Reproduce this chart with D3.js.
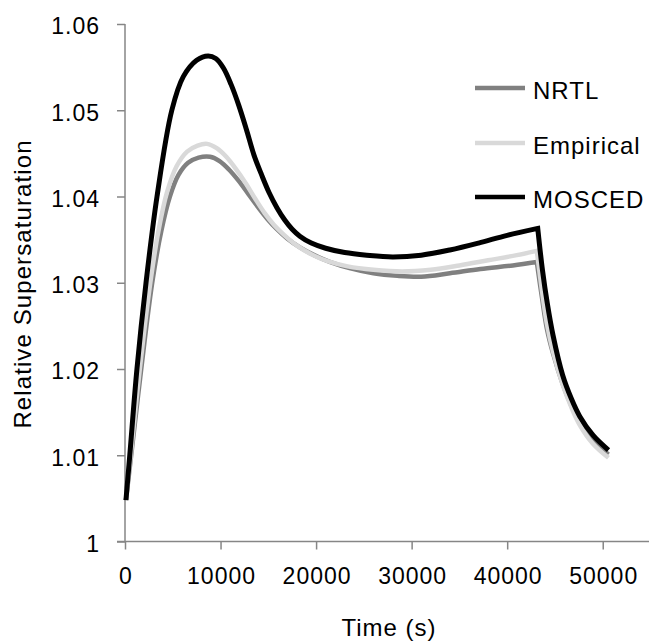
<!DOCTYPE html>
<html>
<head>
<meta charset="utf-8">
<script src="https://cdn.jsdelivr.net/npm/d3@7"></script>
<style>
	body { margin: 0; background: white; }
	svg { display: block; }
	text { font-family: "Liberation Sans", Arial, sans-serif; fill: #000; }
</style>
</head>
<body>
<svg id="chart" width="649" height="641"></svg>
<script>

// values (time in s, relative supersaturation)
let nrtl_t = [100, 650, 1700, 2850, 3800, 4700, 5600, 6600, 7700, 8900, 9900, 10900, 11900, 12900, 13900, 14900, 15900, 17000, 18300, 19800, 21500, 23500, 26000, 28500, 31000, 34000, 37200, 40600, 43100, 43650, 44150, 44800, 45800, 46700, 47600, 49000, 50600];
let nrtl_v = [1.0048, 1.0100, 1.0200, 1.0300, 1.0360, 1.0400, 1.0425, 1.0439, 1.0445, 1.0446, 1.0441, 1.0431, 1.0418, 1.0403, 1.0388, 1.0374, 1.0362, 1.0351, 1.0341, 1.0332, 1.0324, 1.0317, 1.0311, 1.0308, 1.0307, 1.0311, 1.0316, 1.0320, 1.0324, 1.0282, 1.0247, 1.0218, 1.0183, 1.0158, 1.0138, 1.0117, 1.0101];

let empirical_t = [100, 600, 1550, 2650, 3500, 4400, 5400, 6500, 7600, 8600, 9600, 10600, 11600, 12600, 13600, 14600, 15600, 16700, 18000, 19500, 21200, 23300, 26000, 29000, 32000, 35000, 38000, 41000, 43100, 43650, 44150, 44800, 45800, 46700, 47600, 49000, 50600];
let empirical_v = [1.0048, 1.0100, 1.0200, 1.0300, 1.0360, 1.0405, 1.0435, 1.0452, 1.0459, 1.0461, 1.0456, 1.0446, 1.0432, 1.0416, 1.0398, 1.0381, 1.0367, 1.0355, 1.0343, 1.0333, 1.0325, 1.0319, 1.0315, 1.0313, 1.0315, 1.0320, 1.0326, 1.0332, 1.0337, 1.0290, 1.0253, 1.0220, 1.0182, 1.0156, 1.0135, 1.0113, 1.0097];

let mosced_t = [100, 500, 1250, 2200, 3350, 4900, 6100, 7500, 8700, 9500, 10300, 11100, 11900, 12700, 13500, 14300, 15100, 15900, 16700, 17500, 18300, 19500, 21000, 23000, 25300, 28000, 31000, 34000, 37000, 40000, 43200, 43700, 44200, 44800, 45800, 46700, 47600, 49000, 50600];
let mosced_v = [1.0048, 1.0100, 1.0200, 1.0300, 1.0400, 1.0500, 1.0539, 1.0558, 1.0563, 1.0560, 1.0549, 1.0530, 1.0506, 1.0478, 1.0448, 1.0425, 1.0404, 1.0387, 1.0373, 1.0362, 1.0354, 1.0346, 1.0340, 1.0335, 1.0332, 1.0330, 1.0332, 1.0338, 1.0346, 1.0355, 1.0363, 1.0314, 1.0276, 1.0239, 1.0193, 1.0166, 1.0145, 1.0123, 1.0106];

let series_names = ['NRTL', 'Empirical', 'MOSCED'];
let series_colors = ['#808080', '#d9d9d9', '#000000'];

let x_ticks = [0, 10000, 20000, 30000, 40000, 50000];
let y_ticks = [1, 1.01, 1.02, 1.03, 1.04, 1.05, 1.06];

let series = [
	{name: series_names[0], color: series_colors[0], width: 4.5, t: nrtl_t, v: nrtl_v},
	{name: series_names[1], color: series_colors[1], width: 4.5, t: empirical_t, v: empirical_v},
	{name: series_names[2], color: series_colors[2], width: 5, t: mosced_t, v: mosced_v}
];

let svg = d3.select('#chart');

let x = d3.scaleLinear()
.domain([0, 55000])
.range([125, 650.5]);

let y = d3.scaleLinear()
.domain([1, 1.06])
.range([541.5, 24]);

let axis_color = '#868686';

// y axis
let yAxis = svg.append('g')
.attr('transform', 'translate(125,0)')
.call(d3.axisLeft(y).tickValues(y_ticks).tickSize(8).tickPadding(17).tickFormat(d => +d.toFixed(2)));

// x axis
let xAxis = svg.append('g')
.attr('transform', 'translate(0,541.5)')
.call(d3.axisBottom(x).tickValues(x_ticks).tickSize(8).tickPadding(18).tickFormat(d => d));

for (let ax of [xAxis, yAxis]) {
	ax.select('.domain').attr('stroke', axis_color).attr('stroke-width', 1.5);
	ax.selectAll('.tick line').attr('stroke', axis_color).attr('stroke-width', 1.5);
	ax.selectAll('.tick text')
	.attr('font-size', 23)
	.attr('font-family', '"Liberation Sans", Arial, sans-serif')
	.attr('letter-spacing', 1)
	.attr('fill', '#000');
}
// x axis line runs from the left tick mark to the right edge
xAxis.select('.domain').attr('d', 'M117,0H650.5');
yAxis.select('.domain').attr('d', 'M0,541.5V24');
yAxis.selectAll('.tick text').attr('dy', '0.43em');
xAxis.selectAll('.tick text').attr('dy', '0.71em').attr('dx', 0.5);

// axis titles
svg.append('text')
.attr('x', 389)
.attr('y', 636)
.attr('text-anchor', 'middle')
.attr('font-size', 24)
.attr('letter-spacing', 1)
.text('Time (s)');

svg.append('text')
.attr('transform', 'translate(31,284) rotate(-90)')
.attr('text-anchor', 'middle')
.attr('font-size', 24)
.attr('letter-spacing', 1.1)
.text('Relative Supersaturation');

// curves: smooth on both sides of the sharp corner where the feed stops
let line = d3.line()
.x(d => x(d[0]))
.y(d => y(d[1]))
.curve(d3.curveCatmullRom.alpha(0.5));

for (let s of series) {
	let pts = s.t.map((t, i) => [t, s.v[i]]);
	// corner = highest point in the late part of the run
	let k = d3.maxIndex(pts, p => p[0] > 30000 ? p[1] : -Infinity);
	let d = line(pts.slice(0, k + 1)) + line(pts.slice(k)).replace(/^M[^CL]*/, '');
	svg.append('path')
	.attr('d', d)
	.attr('fill', 'none')
	.attr('stroke', s.color)
	.attr('stroke-width', s.width)
	.attr('stroke-linejoin', 'miter');
}

// legend
let legend_y = [88, 143, 197];
series.forEach(function (s, i) {
	svg.append('line')
	.attr('x1', 475).attr('x2', 525)
	.attr('y1', legend_y[i]).attr('y2', legend_y[i])
	.attr('stroke', s.color)
	.attr('stroke-width', 4.5);
	svg.append('text')
	.attr('x', 533)
	.attr('y', legend_y[i] + 11)
	.attr('font-size', 24)
	.attr('letter-spacing', 1)
	.text(s.name);
});

</script>
</body>
</html>
